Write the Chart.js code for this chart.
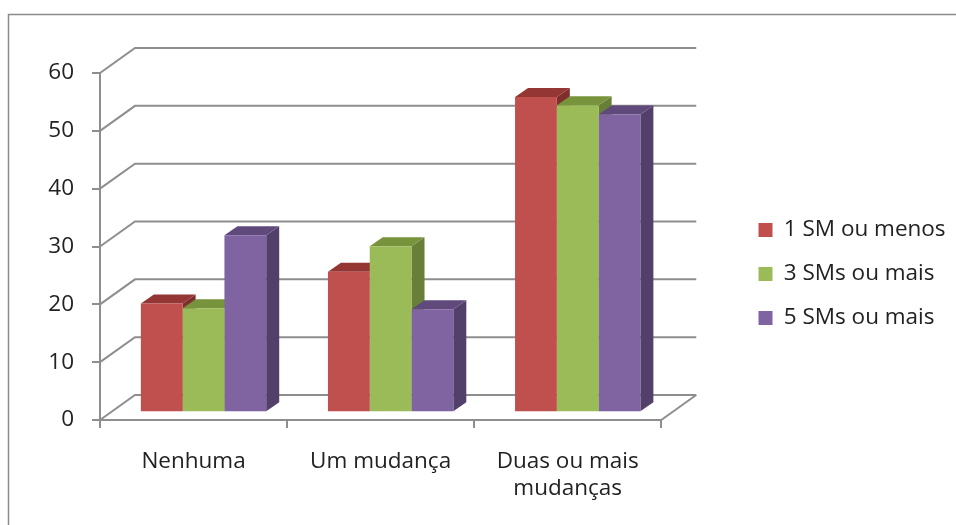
<!DOCTYPE html>
<html>
<head>
<meta charset="utf-8">
<script src="https://cdn.jsdelivr.net/npm/chart.js@4/dist/chart.umd.min.js"></script>
<style>
  html, body { margin: 0; padding: 0; background: #fff; }
  #wrap { position: relative; width: 956px; height: 525px; }
</style>
</head>
<body>
<div id="wrap"><canvas id="chart"></canvas></div>
<script>
// Data
const categories = ["Nenhuma", "Um mudança", ["Duas ou mais", "mudanças"]];
const seriesNames = ["1 SM ou menos", "3 SMs ou mais", "5 SMs ou mais"];
const sm1OuMenos = [18.8, 24.3, 54.5];
const sm3OuMais = [18.0, 28.7, 53.1];
const sm5OuMais = [30.6, 17.8, 51.5];
const yTicks = [0, 10, 20, 30, 40, 50, 60];

// Colours: front, top, side
const faceColors = [
  { front: "#C0504D", top: "#943634", side: "#7F2E2C" },
  { front: "#9BBB59", top: "#77933C", side: "#687F38" },
  { front: "#8064A2", top: "#604A7B", side: "#523F6A" },
];

const gridColor = "#8E8E8E";
const font = { family: "'Open Sans', Lato, sans-serif", size: 22.5 };

// depth of the walls and of the bars
const WALL_DX = 35, WALL_DY = -25;
const BAR_DX = 13, BAR_DY = -9;
const BAR_SHIFT_X = 10, BAR_SHIFT_Y = -7.7;

const threeD = {
  id: "threeD",
  beforeDraw(chart) {
    const ctx = chart.ctx;
    ctx.save();
    ctx.strokeStyle = "#8A8A8A";
    ctx.lineWidth = 1.5;
    ctx.strokeRect(8.5, 14.5, 1000, 1000);
    ctx.restore();
  },
  beforeDatasetsDraw(chart) {
    const ctx = chart.ctx;
    const { left, right } = chart.chartArea;
    const y = chart.scales.y;
    ctx.save();
    ctx.strokeStyle = gridColor;
    ctx.lineWidth = 2;
    yTicks.forEach((v) => {
      const py = y.getPixelForValue(v);
      ctx.beginPath();
      ctx.moveTo(left, py);
      ctx.lineTo(left + WALL_DX, py + WALL_DY);
      ctx.lineTo(right + WALL_DX, py + WALL_DY);
      ctx.stroke();
    });
    // floor right edge
    const p0 = y.getPixelForValue(0);
    ctx.beginPath();
    ctx.moveTo(right, p0);
    ctx.lineTo(right + WALL_DX, p0 + WALL_DY);
    ctx.stroke();

    // bars: tops and sides, front faces come from Chart.js
    ctx.translate(BAR_SHIFT_X, BAR_SHIFT_Y);
    chart.data.datasets.forEach((ds, i) => {
      const meta = chart.getDatasetMeta(i);
      const c = faceColors[i];
      meta.data.forEach((bar) => {
        const x0 = bar.x - bar.width / 2;
        const x1 = bar.x + bar.width / 2;
        const top = bar.y;
        const bottom = bar.base;
        ctx.fillStyle = c.side;
        ctx.beginPath();
        ctx.moveTo(x1, top);
        ctx.lineTo(x1 + BAR_DX, top + BAR_DY);
        ctx.lineTo(x1 + BAR_DX, bottom + BAR_DY);
        ctx.lineTo(x1, bottom);
        ctx.closePath();
        ctx.fill();
        ctx.fillStyle = c.top;
        ctx.beginPath();
        ctx.moveTo(x0, top);
        ctx.lineTo(x0 + BAR_DX, top + BAR_DY);
        ctx.lineTo(x1 + BAR_DX, top + BAR_DY);
        ctx.lineTo(x1, top);
        ctx.closePath();
        ctx.fill();
      });
    });
  },
  afterDatasetsDraw(chart) {
    chart.ctx.restore();
  },
  afterLayout(chart) {
    // move the legend out to the right, like the original
    const lg = chart.legend;
    const w = lg.width;
    lg.left = 737;
    lg.right = lg.left + w;
    lg.top = 190;
    lg.bottom = 358;
    lg.height = lg.bottom - lg.top;
  },
};

const seriesData = [sm1OuMenos, sm3OuMais, sm5OuMais];

const chart = new Chart(document.getElementById("chart"), {
  type: "bar",
  data: {
    labels: categories,
    datasets: seriesData.map((values, i) => ({
      label: seriesNames[i],
      data: values,
      backgroundColor: faceColors[i].front,
      borderWidth: 0,
      barPercentage: 1,
      categoryPercentage: 0.67,
      clip: false,
    })),
  },
  options: {
    responsive: true,
    maintainAspectRatio: false,
    animation: false,
    layout: {
      padding: { left: 8, top: 73, right: 80, bottom: 0 },
    },
    plugins: {
      legend: {
        position: "right",
        labels: {
          font: font,
          color: "#222",
          boxWidth: 14,
          boxHeight: 14,
          padding: 21.5,
        },
      },
      tooltip: { enabled: false },
    },
    scales: {
      x: {
        afterFit: function (scale) {
          scale.height = 105;
        },
        grid: {
          offset: true,
          drawOnChartArea: false,
          drawTicks: true,
          tickLength: 8,
          color: gridColor,
          lineWidth: 2,
        },
        border: { display: true, color: gridColor, width: 2 },
        ticks: {
          font: font,
          color: "#222",
          padding: 20,
          maxRotation: 0,
        },
      },
      y: {
        min: 0,
        max: 60,
        afterFit: function (scale) {
          scale.width = 92;
        },
        afterBuildTicks: function (scale) {
          scale.ticks = yTicks.map((v) => ({ value: v }));
        },
        grid: {
          drawOnChartArea: false,
          drawTicks: true,
          tickLength: 8,
          color: gridColor,
          lineWidth: 2,
        },
        border: { display: true, color: gridColor, width: 2 },
        ticks: {
          font: font,
          color: "#222",
          padding: 18,
        },
      },
    },
  },
  plugins: [threeD],
});

// keep the front plane ending at x = 662 whatever the legend width is
const extra = chart.chartArea.right - 662;
if (Math.abs(extra) > 0.5) {
  chart.options.layout.padding.right += extra;
  chart.update();
}
</script>
</body>
</html>
